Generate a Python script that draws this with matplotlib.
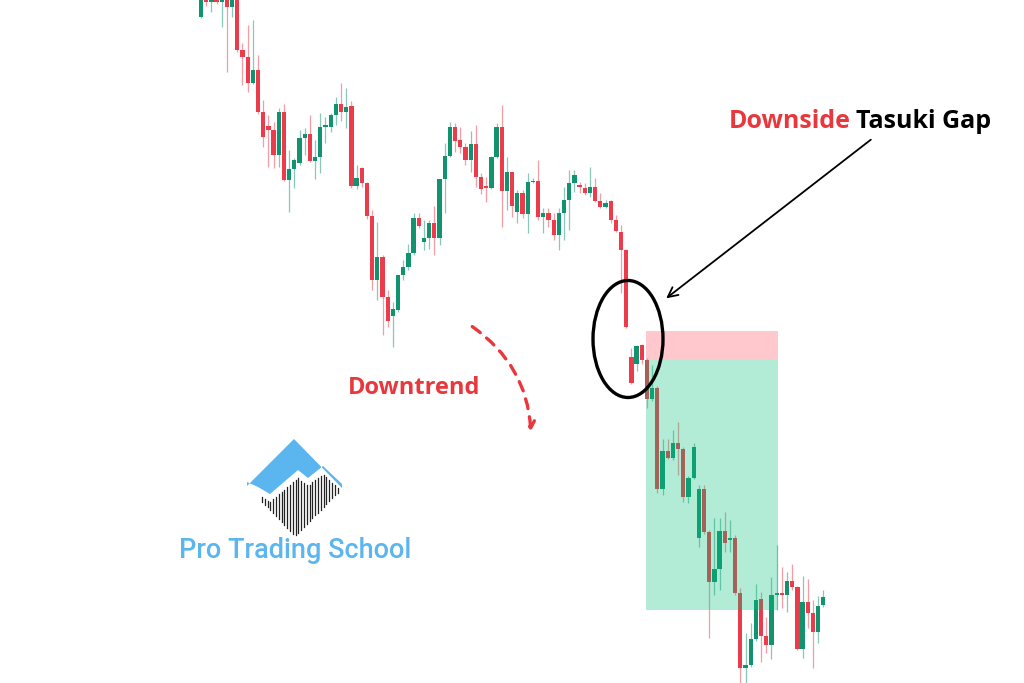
import matplotlib.pyplot as plt
import matplotlib.patches as patches
import numpy as np

# candles, oldest first (price units)
opens = [983, 1000, 998, 1000, 998, 1000, 993, 1000, 950, 943,
         917, 930, 888, 874, 870, 845, 888, 820, 831, 837,
         862, 866, 839, 843, 873, 873, 885, 896, 888, 894,
         814, 832, 817, 784, 720, 743, 703, 684, 690, 725,
         733, 747, 782, 758, 762, 777, 762, 821, 844, 873,
         860, 853, 840, 856, 823, 814, 812, 843, 873, 809,
         828, 788, 807, 786, 818, 819, 783, 787, 780, 765,
         787, 800, 817, 815, 812, 807, 813, 799, 793, 799,
         780, 768, 750, 643, 636, 655, 640, 601, 612, 511,
         549, 542, 557, 551, 503, 522, 462, 511, 468, 418,
         431, 469, 460, 462, 407, 332, 335, 361, 401, 364,
         355, 405, 407, 405, 419, 413, 351, 398, 387, 368, 395]
highs = [1010, 1003, 1002, 1002, 1003, 1003, 1003, 1003, 957, 975,
         980, 945, 900, 885, 878, 892, 896, 850, 842, 870,
         872, 885, 860, 887, 883, 887, 903, 917, 912, 899,
         835, 833, 818, 790, 778, 745, 710, 698, 725, 740,
         756, 787, 787, 780, 780, 794, 821, 857, 878, 877,
         873, 857, 869, 875, 827, 823, 844, 877, 895, 843,
         828, 810, 810, 827, 822, 840, 792, 792, 787, 792,
         813, 830, 830, 818, 817, 833, 822, 807, 800, 800,
         785, 775, 751, 652, 655, 656, 642, 635, 614, 561,
         561, 570, 578, 553, 524, 557, 515, 515, 470, 482,
         482, 488, 480, 465, 412, 367, 377, 416, 408, 383,
         423, 455, 433, 428, 436, 414, 424, 421, 400, 404, 410]
lows = [982, 994, 988, 996, 973, 928, 983, 948, 915, 908,
        916, 886, 853, 833, 832, 833, 819, 788, 812, 835,
        845, 838, 821, 827, 857, 868, 875, 879, 872, 812,
        811, 813, 781, 710, 700, 665, 673, 653, 688, 720,
        730, 745, 772, 750, 751, 745, 755, 787, 843, 848,
        847, 835, 828, 813, 806, 798, 811, 842, 773, 790,
        783, 777, 782, 767, 817, 780, 767, 773, 760, 750,
        760, 770, 808, 807, 805, 803, 798, 792, 792, 777,
        768, 707, 672, 616, 629, 636, 592, 599, 507, 505,
        541, 540, 525, 498, 497, 521, 453, 466, 362, 405,
        410, 448, 448, 405, 317, 315, 333, 359, 338, 347,
        341, 390, 392, 388, 410, 350, 342, 372, 332, 357, 393]
closes = [1005, 998, 1000, 998, 1000, 993, 1000, 950, 943, 917,
          930, 888, 863, 870, 845, 888, 820, 831, 840, 862,
          866, 839, 843, 873, 875, 885, 896, 888, 893, 814,
          822, 817, 784, 720, 743, 703, 679, 691, 725, 733,
          747, 782, 774, 762, 777, 762, 821, 844, 873, 859,
          853, 840, 856, 823, 811, 812, 843, 873, 809, 828,
          794, 807, 786, 818, 819, 783, 787, 780, 765, 787,
          800, 817, 825, 813, 807, 813, 799, 793, 797, 780,
          769, 750, 673, 617, 654, 640, 601, 612, 511, 549,
          542, 557, 551, 503, 522, 553, 511, 468, 418, 431,
          469, 457, 462, 407, 332, 335, 361, 400, 364, 355,
          405, 407, 405, 419, 413, 351, 398, 387, 368, 394, 403]

# short position tool
entry, stop, target = 640, 669, 390
pos_start, pos_end = 85.8, 111.3

RED = '#EC3B4B'
GREEN = '#12936F'
TXT_RED = '#E8383D'
LOGO_BLUE = '#5BB5EE'

fig = plt.figure(figsize=(10.24, 6.83), dpi=100)
ax = fig.add_axes([0, 0, 1, 1])
ax.axis('off')

o = np.array(opens, float)
h = np.array(highs, float)
l = np.array(lows, float)
c = np.array(closes, float)
idx = np.arange(len(o))
cols = np.where(c >= o, GREEN, RED)

ax.vlines(idx, l, h, colors=cols, linewidth=0.9, alpha=0.5, zorder=1)
ax.bar(idx, np.maximum(np.abs(c - o), 1.3), bottom=np.minimum(o, c),
       width=0.82, color=cols, linewidth=0, zorder=2)

# risk / reward boxes drawn over the candles
ax.add_patch(patches.Rectangle((pos_start, entry), pos_end - pos_start, stop - entry,
                               color='#FF5A66', alpha=0.33, lw=0, zorder=3))
ax.add_patch(patches.Rectangle((pos_start, target), pos_end - pos_start, entry - target,
                               color='#00C27A', alpha=0.30, lw=0, zorder=3))

ax.set_xlim(-38.76, 158.7)
ax.set_ylim(317, 1000)

# overlay in pixel coordinates for the annotations
ov = fig.add_axes([0, 0, 1, 1])
ov.set_xlim(0, 1024)
ov.set_ylim(683, 0)
ov.axis('off')
ov.patch.set_alpha(0)

ov.add_patch(patches.Ellipse((628, 339), 70, 117, fill=False, lw=2.4, ec='black'))
ov.annotate("", xy=(664, 300), xytext=(873, 138),
            arrowprops=dict(arrowstyle="->,head_length=0.7,head_width=0.35", lw=1.3, color='black'))

t1 = ov.text(729, 122, "Downside", color=TXT_RED, fontsize=18, fontweight='bold',
             family='Open Sans', ha='left', va='center')
fig.canvas.draw()
bb = t1.get_window_extent()
x_end = ov.transData.inverted().transform((bb.x1, bb.y0))[0]
ov.text(x_end + 5, 122, "Tasuki Gap", color='black', fontsize=18, fontweight='bold',
        family='Open Sans', ha='left', va='center')
ov.text(414, 388, "Downtrend", color=TXT_RED, fontsize=17, fontweight='bold',
        family='Open Sans', ha='center', va='center')

ov.add_patch(patches.FancyArrowPatch((470, 325), (531, 434), connectionstyle="arc3,rad=-0.25",
                                     arrowstyle="->,head_length=0.5,head_width=0.3",
                                     lw=2.4, ls=(0, (3, 2.5)), color=TXT_RED, mutation_scale=10))

# logo
zig_x = [247, 258, 270, 298, 308, 323, 342]
zig_y = [486, 491, 498, 474, 482, 470, 488]
blue = [(247, 486), (294, 439), (342, 488)] + [(x, y - 4) for x, y in zip(zig_x[::-1], zig_y[::-1])]
ov.add_patch(patches.Polygon(blue, closed=True, color=LOGO_BLUE, lw=0))
for sx in np.arange(262, 340, 2.8):
    top = np.interp(sx, zig_x, zig_y) + 4
    bot = 486 + (sx - 247) * 1.04 if sx < 295 else 536 - (sx - 295) * 1.02
    if bot > top:
        ov.plot([sx, sx], [top, bot], color='#222222', lw=0.9)
ov.text(295, 550, "Pro Trading School", color=LOGO_BLUE, fontsize=19.5, fontweight='medium',
        family='Roboto', ha='center', va='center')

fig.savefig('out.png', dpi=100)
